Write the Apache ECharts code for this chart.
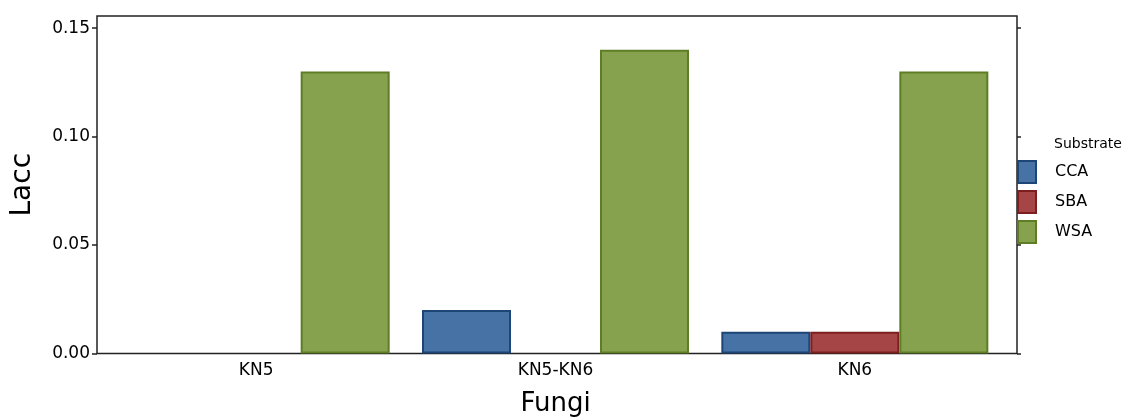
<!DOCTYPE html>
<html>
<head>
<meta charset="utf-8">
<script src="https://cdn.jsdelivr.net/npm/echarts@6/dist/echarts.min.js"></script>
<style>
  html, body { margin: 0; padding: 0; background: #fff; }
  #chart { width: 1129px; height: 419px; }
</style>
</head>
<body>
<div id="chart"></div>
<script>
  const fungi = ['KN5', 'KN5-KN6', 'KN6'];
  const substrates = ['CCA', 'SBA', 'WSA'];
  const cca = [0, 0.02, 0.01];
  const sba = [0, 0, 0.01];
  const wsa = [0.13, 0.14, 0.13];
  const yTicks = [0, 0.05, 0.1, 0.15];

  const fills = ['#4672a6', '#a64545', '#87a24e'];
  const borders = ['#1d4576', '#7d1f1f', '#5f7d25'];
  const yMax = 0.1556;
  const font = 'DejaVu Sans';

  // zero values have no visible bar in the figure
  const makeBar = (name, values, i) => ({
    name: name,
    type: 'bar',
    xAxisIndex: 1,
    yAxisIndex: 2,
    barWidth: 89,
    barGap: '0%',
    itemStyle: { color: fills[i], borderColor: borders[i], borderWidth: 2 },
    emphasis: { disabled: true },
    data: values.map((v) => (v === 0 ? null : v)),
  });

  const chart = echarts.init(document.getElementById('chart'));
  const option = {
    animation: false,
    title: {
      text: 'Substrate',
      left: 1054,
      top: 137,
      padding: 0,
      textStyle: { fontFamily: font, fontSize: 14, fontWeight: 'normal', color: '#000' },
    },
    legend: {
      orient: 'vertical',
      left: 1017,
      top: 160,
      padding: 0,
      itemWidth: 18,
      itemHeight: 22,
      itemGap: 6,
      icon: 'rect',
      data: substrates,
      itemStyle: { borderWidth: 2 },
      textStyle: { fontFamily: font, fontSize: 16, color: '#000', padding: [0, 0, 0, 14] },
    },
    grid: [
      { left: 97, top: 16, width: 920, height: 337.5, show: true, borderColor: '#222', borderWidth: 1.5, backgroundColor: 'transparent', outerBoundsMode: 'none' },
      { left: 106.5, top: 16, width: 898, height: 337.5, outerBoundsMode: 'none' },
    ],
    xAxis: [
      { gridIndex: 0, type: 'value', min: 0, max: 1, show: false },
      {
        gridIndex: 1,
        type: 'category',
        data: fungi,
        axisLine: { show: false },
        axisTick: { show: false },
        axisLabel: { fontFamily: font, fontSize: 17, color: '#000', margin: 9 },
        name: 'Fungi',
        nameLocation: 'middle',
        nameGap: 38,
        nameTextStyle: { fontFamily: font, fontSize: 26, color: '#000' },
      },
    ],
    yAxis: [
      {
        gridIndex: 0,
        type: 'value',
        min: 0,
        max: yMax,
        position: 'left',
        axisLine: { show: false },
        splitLine: { show: false },
        axisTick: { show: true, length: 5, lineStyle: { color: '#222', width: 1.5 }, customValues: yTicks },
        axisLabel: {
          fontFamily: font, fontSize: 17, color: '#000', margin: 7,
          customValues: yTicks,
          formatter: (v) => v.toFixed(2),
        },
        name: 'Lacc',
        nameLocation: 'middle',
        nameGap: 60,
        nameTextStyle: { fontFamily: font, fontSize: 28, color: '#000' },
      },
      {
        gridIndex: 0,
        type: 'value',
        min: 0,
        max: yMax,
        position: 'right',
        axisLine: { show: false },
        splitLine: { show: false },
        axisTick: { show: true, length: 4, lineStyle: { color: '#222', width: 1.5 }, customValues: yTicks },
        axisLabel: { show: false },
      },
      { gridIndex: 1, type: 'value', min: 0, max: yMax, show: false },
    ],
    series: [
      makeBar('CCA', cca, 0),
      makeBar('SBA', sba, 1),
      makeBar('WSA', wsa, 2),
    ],
  };
  chart.setOption(option);
</script>
</body>
</html>
